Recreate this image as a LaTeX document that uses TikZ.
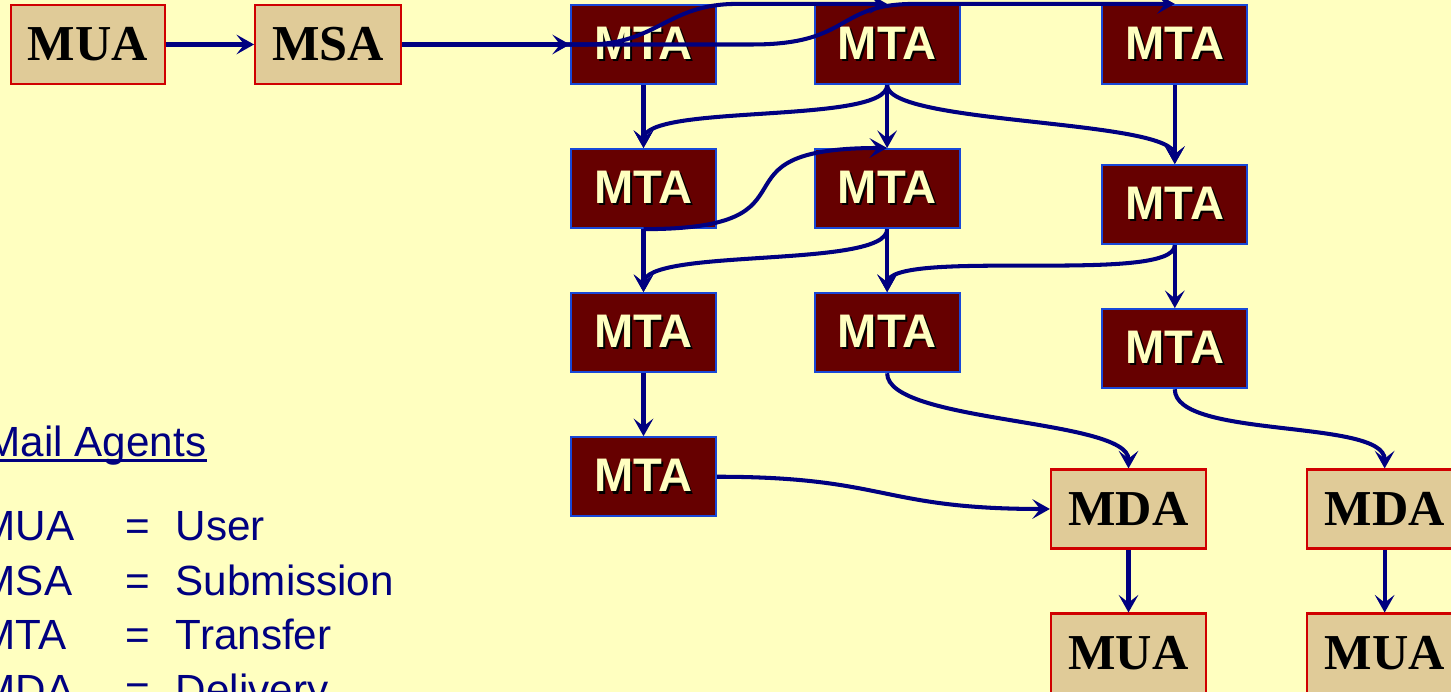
\documentclass[tikz,border=0pt]{standalone}
\usepackage{fontspec}
\setmainfont{Liberation Serif}
\setsansfont{Liberation Sans}
\usetikzlibrary{shapes,arrows.meta,positioning}
\definecolor{paper}{HTML}{FFFFC0}
\definecolor{tan}{HTML}{E0CB98}
\definecolor{boxred}{HTML}{D00000}
\definecolor{maroon}{HTML}{660000}
\definecolor{rim}{HTML}{1848D8}
\definecolor{ink}{HTML}{000080}
\newcommand{\shadowed}[1]{\rlap{\kern0.6pt\raisebox{-0.6pt}{\color{black}#1}}#1}
\tikzset{agent/.style={draw=boxred,fill=tan,line width=0.6pt,minimum height=0.79cm,inner sep=0pt,font=\fontsize{14.3}{14}\selectfont\bfseries}}
\tikzset{mta/.style={draw=rim,fill=maroon,line width=0.6pt,minimum width=1.45cm,minimum height=0.79cm,inner sep=0pt,text=paper,font=\fontsize{13.4}{14}\selectfont\sffamily\bfseries}}
\tikzset{link/.style={draw=ink,line width=1.15pt,->}}
\tikzset{legend/.style={anchor=base west,inner sep=0pt,text=ink,font=\fontsize{12}{14}\selectfont\sffamily}}

\begin{document}
\begin{tikzpicture}[x=0.01cm,y=-0.01cm,>={Stealth[length=5pt,width=5.6pt,inset=2.2pt]}]
    \useasboundingbox (0,0) rectangle (1451,692);
    \fill[paper] (0,0) rectangle (1451,692);

    \node[agent,minimum width=1.54cm] (mua) at (88,44.5) {MUA};
    \node[agent,minimum width=1.46cm,right of=mua,node distance=2.4cm] (msa) {MSA};

    \node[mta] (t11) at (643.5,44.5) {\shadowed{MTA}};
    \node[mta,right of=t11,node distance=2.435cm] (t12) {\shadowed{MTA}};
    \node[mta,right of=t12,node distance=2.875cm] (t13) {\shadowed{MTA}};
    \node[mta,below of=t11,node distance=1.44cm] (t21) {\shadowed{MTA}};
    \node[mta,below of=t12,node distance=1.44cm] (t22) {\shadowed{MTA}};
    \node[mta,below of=t13,node distance=1.6cm] (t23) {\shadowed{MTA}};
    \node[mta,below of=t21,node distance=1.44cm] (t31) {\shadowed{MTA}};
    \node[mta,below of=t22,node distance=1.44cm] (t32) {\shadowed{MTA}};
    \node[mta,below of=t23,node distance=1.44cm] (t33) {\shadowed{MTA}};
    \node[mta,below of=t31,node distance=1.44cm] (t41) {\shadowed{MTA}};

    \node[agent,minimum width=1.55cm] (mda1) at (1128.5,509) {MDA};
    \node[agent,minimum width=1.55cm,right of=mda1,node distance=2.56cm] (mda2) {MDA};
    \node[agent,minimum width=1.55cm,below of=mda1,node distance=1.44cm] (mua1) {MUA};
    \node[agent,minimum width=1.55cm,below of=mda2,node distance=1.44cm] (mua2) {MUA};

        \path[link] (mua) -- (msa);
        \path[link] (msa) -- (t11);
        \path[link] (msa.east) -- ++(185,0) .. controls +(70,0) and +(-70,0) .. ([xshift=-1.5cm]t12.north) -- (t12.north);
        \path[link] (msa.east) -- ++(350,0) .. controls +(100,0) and +(-80,0) .. ([xshift=-2.6cm]t13.north) -- (t13.north);
        \path[link] (t11) -- (t21);
        \path[link] (t12) -- (t22);
        \path[link] (t13) -- (t23);
        \path[link] (t12.south) .. controls +(0,40) and +(0,-45) .. (t21.north);
        \path[link] (t12.south) .. controls +(0,40) and +(0,-45) .. (t23.north);
        \path[link] (t21.south) .. controls +(190,0) and +(-190,0) .. (t22.north);
        \path[link] (t21) -- (t31);
        \path[link] (t22) -- (t32);
        \path[link] (t23) -- (t33);
        \path[link] (t22.south) .. controls +(0,40) and +(0,-45) .. (t31.north);
        \path[link] (t23.south) .. controls +(0,40) and +(0,-45) .. (t32.north);
        \path[link] (t31) -- (t41);
        \path[link] (t32.south) .. controls +(0,50) and +(0,-50) .. (mda1.north);
        \path[link] (t33.south) .. controls +(0,50) and +(0,-50) .. (mda2.north);
        \path[link] (t41.east) .. controls +(170,0) and +(-170,0) .. (mda1.west);
        \path[link] (mda1) -- (mua1);
        \path[link] (mda2) -- (mua2);

    \node[legend] (title) at (-15,457) {Mail Agents};
    \draw[ink,line width=0.7pt] ([yshift=-1pt]title.base west) -- ([yshift=-1pt]title.base east);
    \node[legend] (lmua) at (-20,541) {\makebox[1.45cm][l]{MUA}\makebox[0.5cm][l]{=}User};
    \node[legend] (lmsa) at (-20,596) {\makebox[1.45cm][l]{MSA}\makebox[0.5cm][l]{=}Submission};
    \node[legend] (lmta) at (-20,650) {\makebox[1.45cm][l]{MTA}\makebox[0.5cm][l]{=}Transfer};
    \node[legend] (lmda) at (-20,705) {\makebox[1.45cm][l]{MDA}\makebox[0.5cm][l]{=}Delivery};
\end{tikzpicture}
\end{document}
